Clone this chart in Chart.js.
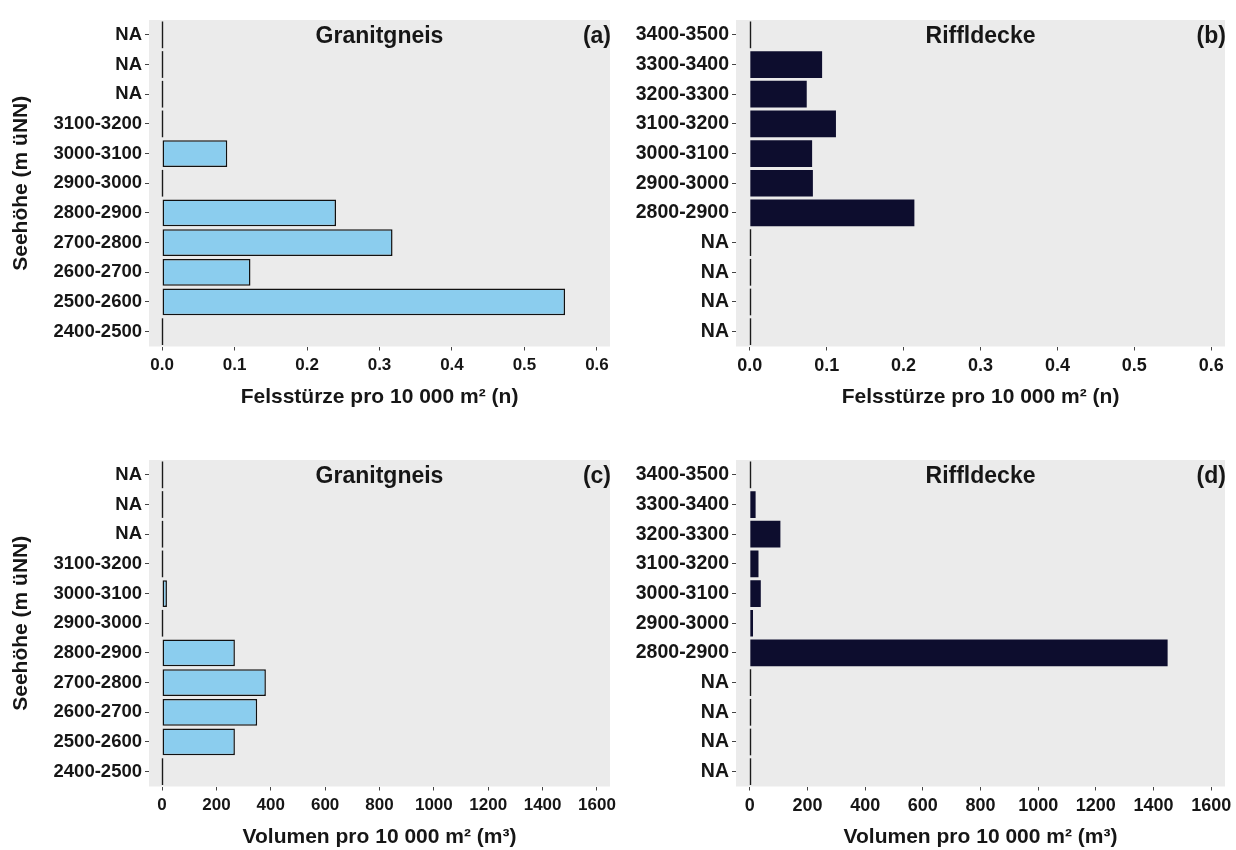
<!DOCTYPE html>
<html>
<head>
<meta charset="utf-8">
<script src="https://cdn.jsdelivr.net/npm/chart.js@4.4.1/dist/chart.umd.min.js"></script>
<style>
  html, body { margin: 0; padding: 0; background: #ffffff; }
  #wrap { position: relative; width: 1236px; height: 850px; overflow: hidden; background: #ffffff; }
  #wrap canvas { position: absolute; }
</style>
</head>
<body>
<div id="wrap">
  <canvas id="panelA" width="618" height="425" style="left:0px;top:0px;width:618px;height:425px"></canvas>
  <canvas id="panelB" width="618" height="425" style="left:618px;top:0px;width:618px;height:425px"></canvas>
  <canvas id="panelC" width="618" height="425" style="left:0px;top:425px;width:618px;height:425px"></canvas>
  <canvas id="panelD" width="618" height="425" style="left:618px;top:425px;width:618px;height:425px"></canvas>
</div>
<script>
// Elevation classes, listed top to bottom as drawn
const classesGranit = ['NA', 'NA', 'NA', '3100-3200', '3000-3100', '2900-3000', '2800-2900', '2700-2800', '2600-2700', '2500-2600', '2400-2500'];
const classesRiffl  = ['3400-3500', '3300-3400', '3200-3300', '3100-3200', '3000-3100', '2900-3000', '2800-2900', 'NA', 'NA', 'NA', 'NA'];

// Rockfalls per 10 000 m² (n)
const countGranit = [0, 0, 0, 0, 0.09, 0, 0.24, 0.318, 0.122, 0.556, 0];
const countRiffl  = [0, 0.094, 0.074, 0.112, 0.081, 0.082, 0.214, 0, 0, 0, 0];

// Volume per 10 000 m² (m³)
const volGranit = [0, 0, 0, 0, 18, 0, 268, 382, 350, 268, 0];
const volRiffl  = [0, 20, 106, 30, 38, 11, 1449, 0, 0, 0, 0];

// Axis ticks
const ticksCount = [0, 0.1, 0.2, 0.3, 0.4, 0.5, 0.6];
const ticksVol   = [0, 200, 400, 600, 800, 1000, 1200, 1400, 1600];

// Texts
const titleGranit = 'Granitgneis';
const titleRiffl  = 'Riffldecke';
const tags        = ['(a)', '(b)', '(c)', '(d)'];
const xTitleCount = 'Felsstürze pro 10 000 m² (n)';
const xTitleVol   = 'Volumen pro 10 000 m² (m³)';
const yTitle      = 'Seehöhe (m üNN)';

const FONT = '"Liberation Sans", Arial, Helvetica, sans-serif';
const INK = '#161616';
const SKY = '#8bcdee';
const NAVY = '#0d0d2e';

Chart.defaults.font.family = FONT;
Chart.defaults.color = INK;

// grey plotting panel behind the bars
const panelBg = {
  id: 'panelBg',
  beforeDraw(chart) {
    const { ctx, chartArea: a } = chart;
    ctx.save();
    ctx.fillStyle = '#ebebeb';
    ctx.fillRect(a.left, a.top, a.right - a.left, a.bottom - a.top);
    ctx.restore();
  }
};

// zero-valued bars still show their outline as a short vertical stroke at x = 0
const zeroBars = {
  id: 'zeroBars',
  afterDatasetsDraw(chart) {
    const { ctx } = chart;
    const meta = chart.getDatasetMeta(0);
    const values = chart.data.datasets[0].data;
    const x0 = Math.round(chart.scales.x.getPixelForValue(0)) + 0.5;
    ctx.save();
    ctx.strokeStyle = '#1a1a1a';
    ctx.lineWidth = 1.4;
    meta.data.forEach((bar, i) => {
      if (values[i] !== 0) return;
      const { y, height } = bar.getProps(['y', 'height'], true);
      ctx.beginPath();
      ctx.moveTo(x0, y - height / 2);
      ctx.lineTo(x0, y + height / 2);
      ctx.stroke();
    });
    ctx.restore();
  }
};

// panel heading and letter, placed in data coordinates on the top row
const panelText = {
  id: 'panelText',
  afterDraw(chart, args, opts) {
    const { ctx } = chart;
    const xs = chart.scales.x, ys = chart.scales.y;
    const y = ys.getPixelForValue(0) + 2;
    ctx.save();
    ctx.fillStyle = INK;
    ctx.font = 'bold ' + opts.size + 'px ' + FONT;
    ctx.textAlign = 'center';
    ctx.textBaseline = 'middle';
    ctx.fillText(opts.title, xs.getPixelForValue(opts.titleAt), y);
    ctx.fillText(opts.tag, xs.getPixelForValue(opts.tagAt), y);
    ctx.restore();
  }
};

function makePanel(id, cfg) {
  const ctx = document.getElementById(id);
  return new Chart(ctx, {
    type: 'bar',
    data: {
      labels: cfg.labels,
      datasets: [{
        data: cfg.values,
        backgroundColor: cfg.fill,
        borderColor: cfg.stroke,
        borderWidth: cfg.strokeWidth,
        borderSkipped: false,
        barPercentage: 0.9,
        categoryPercentage: 1.0
      }]
    },
    options: {
      indexAxis: 'y',
      responsive: false,
      animation: false,
      devicePixelRatio: 1,
      layout: { padding: { top: cfg.padTop, right: cfg.padRight, bottom: 0, left: 0 } },
      scales: {
        x: {
          type: 'linear',
          min: cfg.min,
          max: cfg.max,
          afterBuildTicks(scale) { scale.ticks = cfg.ticks.map(v => ({ value: v })); },
          afterFit(scale) {
            scale.height = cfg.xHeight;
            // the end labels may hang past the panel without shrinking it
            scale.paddingLeft = 0;
            scale.paddingRight = 0;
          },
          border: { display: false },
          grid: { display: true, drawOnChartArea: false, drawTicks: true, tickLength: 4, color: '#444', lineWidth: 1 },
          ticks: {
            color: INK,
            padding: 5,
            maxRotation: 0,
            autoSkip: false,
            font: { size: cfg.xTickSize, weight: 'bold' },
            callback: cfg.fmt
          },
          title: {
            display: true,
            text: cfg.xTitle,
            color: INK,
            font: { size: 21, weight: 'bold' },
            padding: { top: 0, bottom: cfg.xTitlePad }
          }
        },
        y: {
          type: 'category',
          afterFit(scale) {
            scale.width = cfg.yWidth;
            scale.paddingTop = 0;
            scale.paddingBottom = 0;
          },
          border: { display: false },
          grid: { display: true, offset: false, drawOnChartArea: false, drawTicks: true, tickLength: 4, color: '#444', lineWidth: 1 },
          ticks: {
            color: INK,
            padding: 3,
            autoSkip: false,
            font: { size: cfg.yTickSize, weight: 'bold' }
          },
          title: {
            display: !!cfg.yTitle,
            text: cfg.yTitle || '',
            color: INK,
            font: { size: 21, weight: 'bold' },
            padding: { top: 9, bottom: 0 }
          }
        }
      },
      plugins: {
        legend: { display: false },
        tooltip: { enabled: false },
        panelText: { title: cfg.title, tag: cfg.tag, titleAt: cfg.titleAt, tagAt: cfg.tagAt, size: 23 }
      }
    },
    plugins: [panelBg, zeroBars, panelText]
  });
}

const fmtCount = v => Number(v).toFixed(1);
const fmtVol = v => String(v);

makePanel('panelA', {
  labels: classesGranit, values: countGranit, fill: SKY, stroke: '#111', strokeWidth: 1.5,
  min: -0.018, max: 0.618, ticks: ticksCount, fmt: fmtCount, xTitle: xTitleCount, yTitle: yTitle,
  title: titleGranit, tag: tags[0], titleAt: 0.3, tagAt: 0.6,
  padTop: 20, padRight: 8, xHeight: 78.5, yWidth: 149, xTitlePad: 15,
  xTickSize: 17, yTickSize: 18.5
});
makePanel('panelB', {
  labels: classesRiffl, values: countRiffl, fill: NAVY, stroke: NAVY, strokeWidth: 0,
  min: -0.018, max: 0.618, ticks: ticksCount, fmt: fmtCount, xTitle: xTitleCount, yTitle: null,
  title: titleRiffl, tag: tags[1], titleAt: 0.3, tagAt: 0.6,
  padTop: 20, padRight: 11, xHeight: 78.5, yWidth: 118, xTitlePad: 15,
  xTickSize: 18, yTickSize: 19.5
});
makePanel('panelC', {
  labels: classesGranit, values: volGranit, fill: SKY, stroke: '#111', strokeWidth: 1.5,
  min: -48, max: 1648, ticks: ticksVol, fmt: fmtVol, xTitle: xTitleVol, yTitle: yTitle,
  title: titleGranit, tag: tags[2], titleAt: 800, tagAt: 1600,
  padTop: 35, padRight: 8, xHeight: 63.5, yWidth: 149, xTitlePad: 0,
  xTickSize: 17, yTickSize: 18.5
});
makePanel('panelD', {
  labels: classesRiffl, values: volRiffl, fill: NAVY, stroke: NAVY, strokeWidth: 0,
  min: -48, max: 1648, ticks: ticksVol, fmt: fmtVol, xTitle: xTitleVol, yTitle: null,
  title: titleRiffl, tag: tags[3], titleAt: 800, tagAt: 1600,
  padTop: 35, padRight: 11, xHeight: 63.5, yWidth: 118, xTitlePad: 0,
  xTickSize: 18, yTickSize: 19.5
});
</script>
</body>
</html>
